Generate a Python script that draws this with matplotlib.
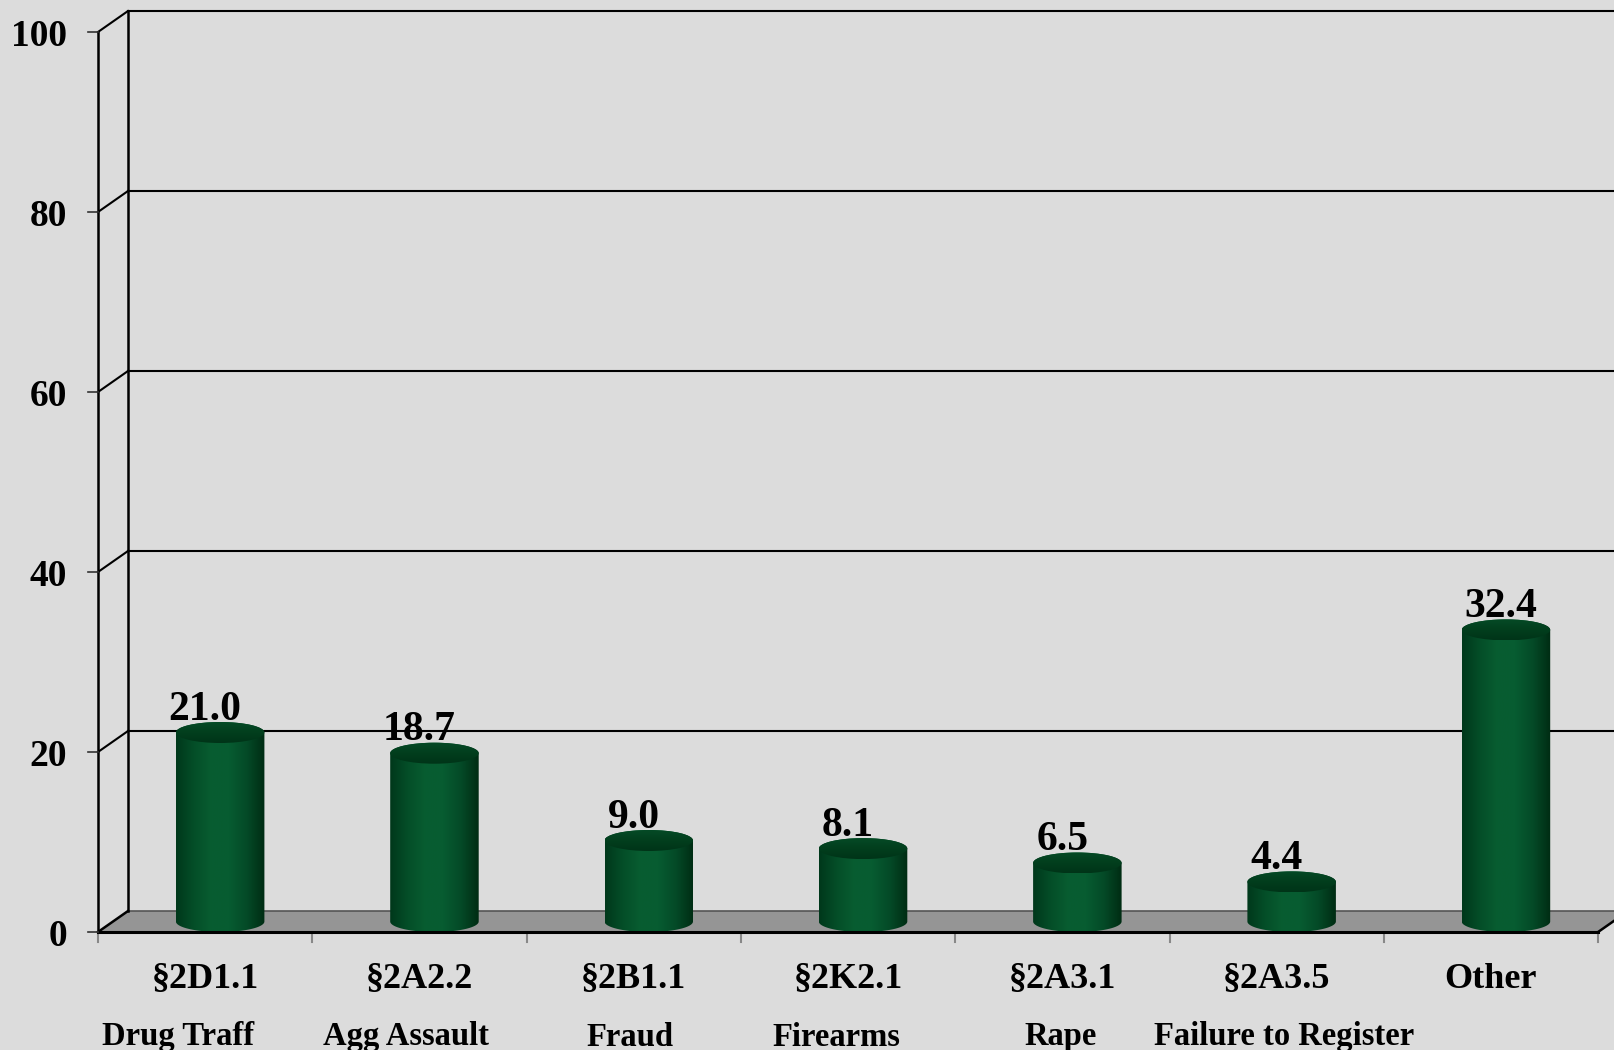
import matplotlib
matplotlib.use("Agg")
import matplotlib.pyplot as plt
import numpy as np
from matplotlib.path import Path
from matplotlib.patches import PathPatch, Polygon, Ellipse
from matplotlib.colors import LinearSegmentedColormap

# data
codes = ["§2D1.1", "§2A2.2", "§2B1.1", "§2K2.1", "§2A3.1", "§2A3.5", "Other"]
names = ["Drug Traff", "Agg Assault", "Fraud", "Firearms", "Rape",
         "Failure to Register", ""]
values = [21.0, 18.7, 9.0, 8.1, 6.5, 4.4, 32.4]
yticks = [0, 20, 40, 60, 80, 100]

# pixel geometry of the pseudo-3D frame (figure is 1614x1050 px)
W, H = 1614, 1050
X0, UX = 98, 214.3      # front y-axis x pos, px per category
Y0, UY = 932, 9.0       # y=0 from top, px per unit
DX, DY = 30, 21         # depth offset of back wall

ddx = DX / UX
ddy = DY / UY
px = 1.0 / UX           # one pixel in x units
py = 1.0 / UY           # one pixel in y units
n = len(values)

FONT = "Liberation Serif"
BG = "#dcdcdc"

fig = plt.figure(figsize=(W / 100, H / 100), dpi=100, facecolor=BG)
ax = fig.add_axes([0, 0, 1, 1])
ax.set_facecolor(BG)
ax.axis("off")

# floor
floor = Polygon([(0, 0), (n, 0), (n + ddx, ddy), (ddx, ddy)], closed=True,
                facecolor="#959595", edgecolor="none", zorder=1)
ax.add_patch(floor)
ax.plot([ddx, n + ddx], [ddy, ddy], color="#555555", lw=1.2, zorder=2)
ax.plot([0, n], [0, 0], color="black", lw=2.2, zorder=6)
ax.plot([n, n + ddx], [0, ddy], color="black", lw=1.8, zorder=6)
ax.plot([0, ddx], [0, ddy], color="black", lw=1.8, zorder=6)

# back wall + left wall
ax.plot([ddx, ddx], [ddy, 100 + ddy], color="black", lw=1.8, zorder=2)
ax.plot([0, 0], [0, 100], color="black", lw=1.8, zorder=6)
for t in yticks[1:]:
    ax.plot([ddx, n + 2], [t + ddy, t + ddy], color="black", lw=1.5, zorder=2)
    ax.plot([0, ddx], [t, t + ddy], color="black", lw=1.5, zorder=2)
for t in yticks:
    ax.plot([-10 * px, 0], [t, t], color="#333333", lw=1.2, zorder=6)
    ax.text(-31 * px, t, str(t), ha="right", va="center_baseline",
            fontsize=27, fontweight="bold", family=FONT, zorder=7)

# category ticks under the floor
for i in range(n + 1):
    ax.plot([i, i], [0, -10 * py], color="#888888", lw=1.5, zorder=5)

# cylinders
cmap_body = LinearSegmentedColormap.from_list(
    "body", ["#00381b", "#044e28", "#085d31", "#075c31", "#044a27", "#002c13"])
cmap_top = LinearSegmentedColormap.from_list(
    "top", ["#003418", "#023e1d", "#054a26"])
rx = 88.5 * px / 2
ry = 10.5 * py
yb = ddy / 2
grad = np.linspace(0, 1, 256).reshape(1, -1)
vgrad = np.linspace(0, 1, 64).reshape(-1, 1)
value_shift = [0, 0, 0, 0, 0, 0, 10]

for i, v in enumerate(values):
    cx = i + 0.5 + ddx / 2
    yt = yb + v
    th_b = np.linspace(np.pi, 2 * np.pi, 60)
    th_t = np.linspace(0, np.pi, 60)
    xs = np.concatenate([cx + rx * np.cos(th_b), cx + rx * np.cos(th_t)])
    ys = np.concatenate([yb + ry * np.sin(th_b), yt + ry * np.sin(th_t)])
    verts = np.column_stack([xs, ys])
    body = PathPatch(Path(np.vstack([verts, verts[:1]]), closed=True),
                     facecolor="none", edgecolor="none")
    ax.add_patch(body)
    im = ax.imshow(grad, cmap=cmap_body, aspect="auto", zorder=4,
                   extent=[cx - rx, cx + rx, yb - ry, yt + ry])
    im.set_clip_path(body)
    top = Ellipse((cx, yt), 2 * rx, 2 * ry, facecolor="none", edgecolor="none")
    ax.add_patch(top)
    im2 = ax.imshow(vgrad, cmap=cmap_top, aspect="auto", zorder=4.5,
                    extent=[cx - rx, cx + rx, yt - ry, yt + ry], origin="lower")
    im2.set_clip_path(top)

    ax.text(i + 0.5 + value_shift[i] * px, v + 2.6, f"{v:.1f}",
            ha="center", va="baseline",
            fontsize=30, fontweight="bold", family=FONT, zorder=8)

# category labels (two lines)
line2_shift = [-27, -13, -4, -12, -2, 7, 0]
for i in range(n):
    ax.text(i + 0.5, -47 * py, codes[i], ha="center", va="center",
            fontsize=26, fontweight="bold", family=FONT)
    if names[i]:
        ax.text(i + 0.5 + line2_shift[i] * px, -105 * py, names[i],
                ha="center", va="center",
                fontsize=23.5, fontweight="bold", family=FONT)

ax.set_xlim(-X0 / UX, (W - X0) / UX)
ax.set_ylim(-(H - Y0) / UY, Y0 / UY)

fig.savefig("out.png", dpi=100, facecolor=BG)
